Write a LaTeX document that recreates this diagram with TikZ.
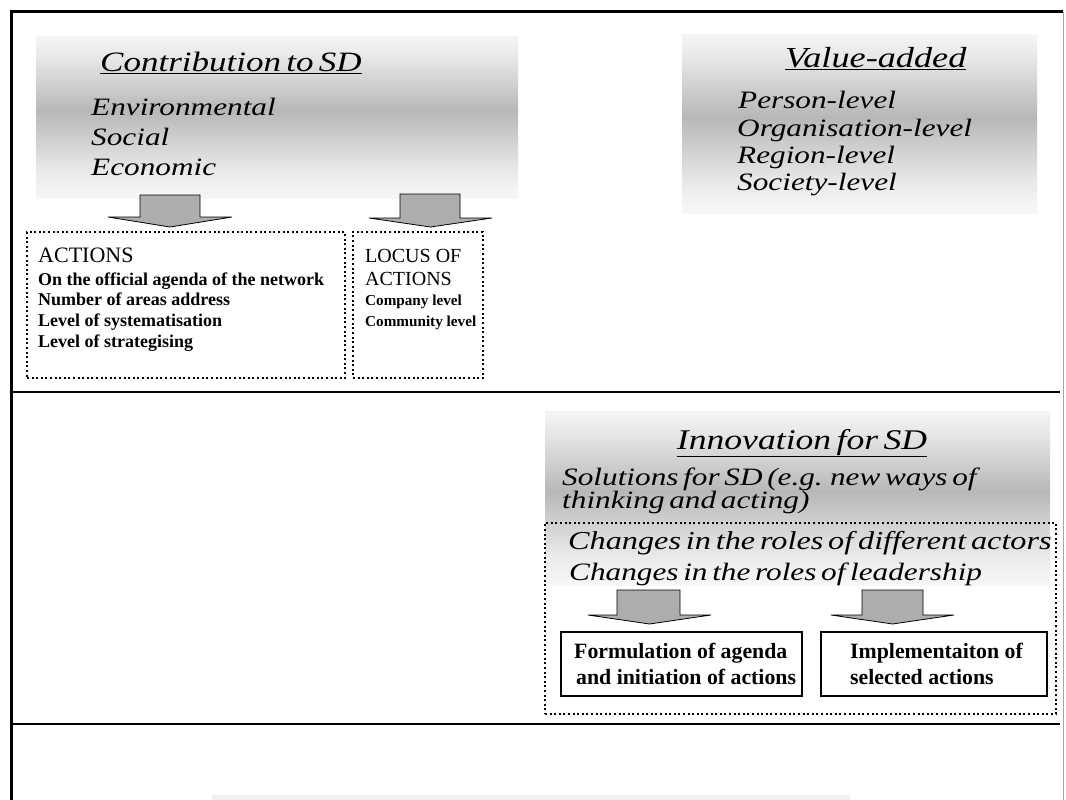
\documentclass[tikz,border=0pt]{standalone}
\usepackage{fontspec}
\setmainfont{Liberation Serif}
\newfontfamily\hand{Liberation Serif}[FakeStretch=1.25, WordSpace=0.6]
% vertical shading: light at both edges, darker band in the middle (box maps to 25bp..75bp)
\pgfdeclareverticalshading{softbar}{100bp}{color(0bp)=(black!3); color(25bp)=(black!3); color(33bp)=(black!8); color(52bp)=(black!28); color(68bp)=(black!10); color(75bp)=(black!4); color(100bp)=(black!4)}
% flat block arrow: shaft left, shaft right, shaft top, head base, head left, head right, tip
\newcommand\flatarrow[7]{\draw[blockarrow] (#5,#4) -- (#1,#4) -- (#1,#3) -- (#2,#3) -- (#2,#4) -- (#6,#4) -- ({(#5+#6)/2},#7) -- cycle;}
\begin{document}
\begin{tikzpicture}[x=1pt,y=-1pt,
  shadebox/.style={shade, shading=softbar, draw=none, inner sep=0pt, outer sep=0pt, anchor=north west},
  dotbox/.style={draw, line width=2pt, dash pattern=on 2pt off 2.6pt, inner sep=0pt, outer sep=0pt, anchor=north west},
  plainbox/.style={draw, line width=1.3pt, inner sep=0pt, outer sep=0pt, anchor=north west},
  handtext/.style={font=\hand\itshape\fontsize{25}{30}\selectfont, inner sep=0pt, anchor=base west},
  handhead/.style={font=\hand\itshape\fontsize{28.5}{32}\selectfont, inner sep=0pt, anchor=base west},
  boldline/.style={font=\bfseries\fontsize{18}{21}\selectfont, inner sep=0pt, anchor=base west},
  smallbold/.style={font=\bfseries\fontsize{15.2}{20}\selectfont, inner sep=0pt, anchor=base west},
  capline/.style={font=\fontsize{20}{24}\selectfont, inner sep=0pt, anchor=base west},
  boxtext/.style={font=\bfseries\fontsize{21.8}{26}\selectfont, inner sep=0pt, anchor=base west},
  blockarrow/.style={fill=black!32, draw=black, line width=0.8pt, line join=miter},
  rule/.style={line width=2pt}]
\fill[white] (0,0) rectangle (1066,800);
\useasboundingbox (0,0) rectangle (1066,800);

% frame and section rules
\draw[line width=3pt] (11,800) -- (11,12) -- (1063,12);
\draw[black!35, line width=1pt] (1063,12) -- (1063,800);
\draw[rule] (10,392) -- (1060,392);
\draw[rule] (10,724) -- (1060,724);
\fill[black!5] (212,795) rectangle (850,800);

% shaded panels
\node[shadebox, minimum width=482pt, minimum height=161pt] (contrib) at (36,37) {};
\node[shadebox, minimum width=355pt, minimum height=178pt] (value) at (682,35) {};
\node[shadebox, minimum width=505pt, minimum height=174pt] (innov) at (545,411) {};

% dotted and plain boxes
\node[dotbox, minimum width=318pt, minimum height=146pt] (actions) at (27,232) {};
\node[dotbox, minimum width=130pt, minimum height=146pt] (locus) at (353,232) {};
\node[dotbox, minimum width=511pt, minimum height=191pt] (roles) at (545,523) {};
\node[plainbox, minimum width=241pt, minimum height=64pt] (formul) at (561,632) {};
\node[plainbox, minimum width=226pt, minimum height=64pt] (implem) at (821,632) {};

% Contribution to SD
\node[handhead, font=\hand\itshape\fontsize{28}{32}\selectfont] (contribT) at (100,71) {\underline{Contribution to SD}};
\node[handtext] (env) at (91,115) {Environmental};
\node[handtext] (soc) at (91,145) {Social};
\node[handtext] (eco) at (91,175) {Economic};

% Value-added
\node[handhead, font=\hand\itshape\fontsize{29}{32}\selectfont] (valueT) at (785,67) {\underline{Value-added}};
\node[handtext] (pers) at (738,109) {Person-level};
\node[handtext] (org) at (737,136) {Organisation-level};
\node[handtext] (reg) at (737,163) {Region-level};
\node[handtext] (socl) at (737,190) {Society-level};

% Actions
\node[capline, font=\fontsize{22}{24}\selectfont] (actT) at (38,262) {ACTIONS};
\node[boldline] (a1) at (38,285) {On the official agenda of the network};
\node[boldline] (a2) at (38,305.5) {Number of areas address};
\node[boldline] (a3) at (38,326) {Level of systematisation};
\node[boldline] (a4) at (38,347) {Level of strategising};

% Locus of actions
\node[capline] (locT1) at (365,262) {LOCUS OF};
\node[capline] (locT2) at (365,285) {ACTIONS};
\node[smallbold] (l1) at (365,305.5) {Company level};
\node[smallbold] (l2) at (365,326) {Community level};

% Innovation for SD
\node[handhead, anchor=base] (innovT) at (802,449) {\underline{Innovation for SD}};
\node[handtext] (sol1) at (562,485) {Solutions for SD (e.g. new ways of};
\node[handtext] (sol2) at (562,508) {thinking and acting)};
\node[handtext, font=\hand\itshape\fontsize{25.8}{30}\selectfont] (ch1) at (568,549) {Changes in the roles of different actors};
\node[handtext] (ch2) at (569,580) {Changes in the roles of leadership};

% lower boxes
\node[boxtext] (f1) at (574,658) {Formulation of agenda};
\node[boxtext] (f2) at (576,684) {and initiation of actions};
\node[boxtext] (i1) at (850,658) {Implementaiton of};
\node[boxtext] (i2) at (850,684) {selected actions};

% block arrows
\flatarrow{140}{200}{195}{217}{108}{232}{227}
\flatarrow{400}{460}{194}{218}{369}{492}{227}
\flatarrow{617}{680}{590}{615}{588}{711}{624}
\flatarrow{862}{923}{590}{615}{831}{954}{624}
\end{tikzpicture}
\end{document}
